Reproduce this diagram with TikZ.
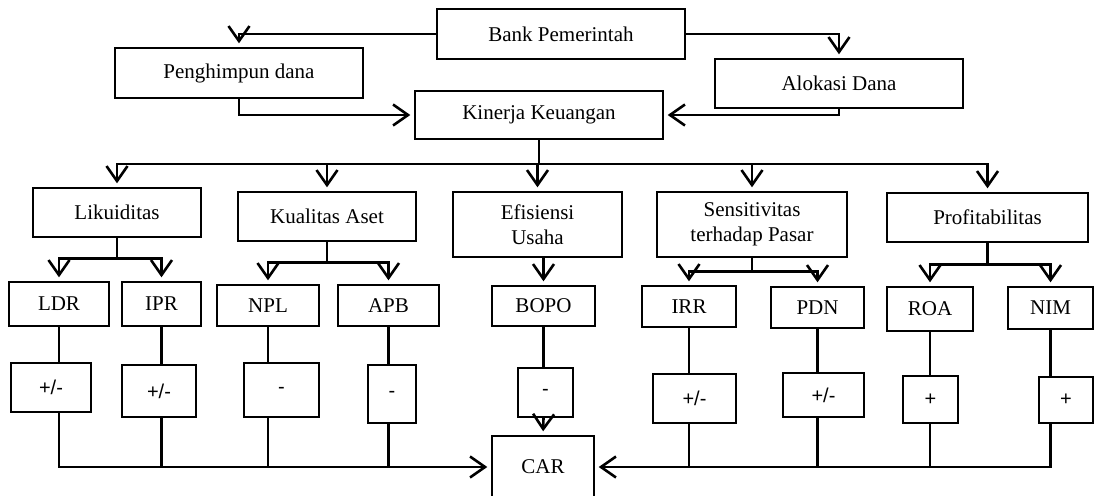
\documentclass[tikz,border=0pt]{standalone}
\usepackage{fontspec}
\setmainfont{Liberation Serif}
\newfontfamily\signfont{Liberation Sans}
\usetikzlibrary{arrows.meta,calc}

\tikzset{
	box/.style={draw, line width=1.4pt, inner sep=0pt, align=center, font=\fontsize{21}{25}\selectfont},
	wh/.style 2 args={minimum width=#1pt, minimum height=#2pt},
	sign/.style={box, font=\signfont\fontsize{20}{24}\selectfont},
	conn/.style={line width=2.6pt},
	arr/.style={conn, -{Straight Barb[length=15pt,width=21pt]}, shorten >=4pt},
}

\begin{document}
\begin{tikzpicture}[x=1pt, y=-1pt]
	\path[use as bounding box, fill=white] (0,0) rectangle (1094,495);
	% top level
	\node[box, wh={248}{50}] (bank) at (561,34) {Bank Pemerintah};
	\node[box, wh={248}{50}] (hp) at (239,73) {Penghimpun dana};
	\node[box, wh={248}{49}] (alok) at (839,83.5) {Alokasi Dana};
	\node[box, wh={248}{48}] (kin) at (539,115) {Kinerja Keuangan};
	\draw[arr] (bank.west) -| (hp.north);
	\draw[arr] (bank.east) -| (alok.north);
	\draw[arr] (hp.south) |- (kin.west);
	\draw[arr] (alok.south) |- (kin.east);
	% aspek
	\node[box, wh={168}{49}] (lik) at (117,212.5) {Likuiditas};
	\node[box, wh={178}{49}] (kual) at (327,216.5) {Kualitas Aset};
	\node[box, wh={169}{65}] (efi) at (537.5,224.5) {Efisiensi\\Usaha};
	\node[box, wh={190}{65}] (sens) at (752,224.5) {Sensitivitas\\terhadap Pasar};
	\node[box, wh={201}{49}] (prof) at (987.5,217.5) {Profitabilitas};
	\coordinate (kbus) at (539,164);
	\draw[conn] (kin.south) -- (kbus);
	\foreach \n in {lik,kual,efi,sens,prof}
		\draw[arr] (kbus) -| (\n.north);
	% rasio
	\node[box, wh={100}{44}] (ldr) at (59,304) {LDR};
	\node[box, wh={79}{44}] (ipr) at (161.5,304) {IPR};
	\node[box, wh={102}{41}] (npl) at (268,305.5) {NPL};
	\node[box, wh={101}{41}] (apb) at (388.5,305.5) {APB};
	\node[box, wh={103}{40}] (bopo) at (543.5,306) {BOPO};
	\node[box, wh={94}{41}] (irr) at (689,306.5) {IRR};
	\node[box, wh={93}{41}] (pdn) at (817.5,307.5) {PDN};
	\node[box, wh={86}{44}] (roa) at (930,309) {ROA};
	\node[box, wh={85}{42}] (nim) at (1050.5,308) {NIM};
	\draw[conn] (lik.south) -- ++(0,21) coordinate (likb);
	\draw[arr] (likb) -| (ldr.north);
	\draw[arr] (likb) -| (ipr.north);
	\draw[conn] (kual.south) -- ++(0,21) coordinate (kualb);
	\draw[arr] (kualb) -| (npl.north);
	\draw[arr] (kualb) -| (apb.north);
	\draw[arr] (bopo.north |- efi.south) -- (bopo.north);
	\draw[conn] (sens.south) -- ++(0,14) coordinate (sensb);
	\draw[arr] (sensb) -| (irr.north);
	\draw[arr] (sensb) -| (pdn.north);
	\draw[conn] (prof.south) -- ++(0,22) coordinate (profb);
	\draw[arr] (profb) -| (roa.north);
	\draw[arr] (profb) -| (nim.north);
	% arah pengaruh
	\node[sign, wh={80}{49}] (s1) at (51,387.5) {+/-};
	\node[sign, wh={74}{52}] (s2) at (159,391) {+/-};
	\node[sign, wh={75}{54}] (s3) at (281.5,390) {-};
	\node[sign, wh={48}{58}] (s4) at (392,394) {-};
	\node[sign, wh={55}{49}] (s5) at (545.5,392.5) {-};
	\node[sign, wh={83}{49}] (s6) at (694.5,398.5) {+/-};
	\node[sign, wh={81}{44}] (s7) at (823.5,395) {+/-};
	\node[sign, wh={55}{47}] (s8) at (930.5,399.5) {+};
	\node[sign, wh={54}{46}] (s9) at (1066,400) {+};
	\node[box, wh={102}{62}] (car) at (543,467) {CAR};
	\draw[conn] (ldr.south) -- (ldr.south |- s1.north);
	\draw[conn] (ipr.south) -- (ipr.south |- s2.north);
	\draw[conn] (npl.south) -- (npl.south |- s3.north);
	\draw[conn] (apb.south) -- (apb.south |- s4.north);
	\draw[conn] (bopo.south) -- (bopo.south |- s5.north);
	\draw[conn] (irr.south) -- (irr.south |- s6.north);
	\draw[conn] (pdn.south) -- (pdn.south |- s7.north);
	\draw[conn] (roa.south) -- (roa.south |- s8.north);
	\draw[conn] (nim.south) -- (nim.south |- s9.north);
	\draw[arr] (ldr.south |- s1.south) |- (car.west);
	\draw[conn] (ipr.south |- s2.south) -- (ipr.south |- car.west);
	\draw[conn] (npl.south |- s3.south) -- (npl.south |- car.west);
	\draw[conn] (apb.south |- s4.south) -- (apb.south |- car.west);
	\draw[arr] (bopo.south |- s5.south) -- (car.north);
	\draw[conn] (irr.south |- s6.south) -- (irr.south |- car.east);
	\draw[conn] (pdn.south |- s7.south) -- (pdn.south |- car.east);
	\draw[conn] (roa.south |- s8.south) -- (roa.south |- car.east);
	\draw[arr] (nim.south |- s9.south) |- (car.east);
\end{tikzpicture}
\end{document}
